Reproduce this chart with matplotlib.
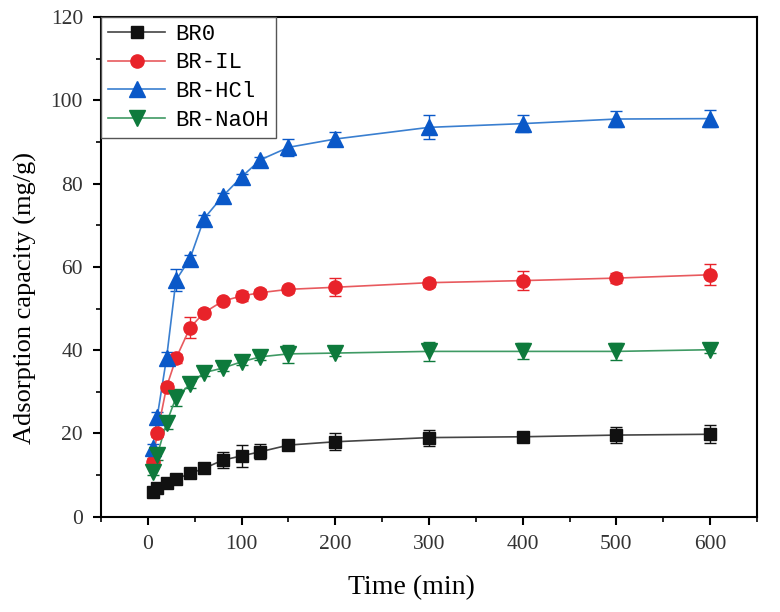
import matplotlib
matplotlib.use("Agg")
import matplotlib.pyplot as plt
from matplotlib.ticker import MultipleLocator

time = [5, 10, 20, 30, 45, 60, 80, 100, 120, 150, 200, 300, 400, 500, 600]

br0 = [6.0, 6.8, 8.0, 9.0, 10.4, 11.6, 13.6, 14.6, 15.6, 17.2, 18.0, 19.0, 19.2, 19.6, 19.8]
br0_err = [0.6, 0.5, 0.6, 0.6, 0.6, 0.7, 2.0, 2.6, 1.8, 1.0, 2.0, 1.9, 0.5, 2.0, 2.2]

br_il = [13.2, 20.0, 31.2, 38.0, 45.4, 49.0, 51.8, 53.0, 53.8, 54.6, 55.1, 56.2, 56.7, 57.3, 58.1]
br_il_err = [0.8, 0.8, 1.0, 1.0, 2.6, 0.8, 0.8, 1.2, 0.8, 0.8, 2.2, 1.0, 2.2, 1.2, 2.5]

br_hcl = [16.4, 24.0, 38.2, 56.8, 62.0, 71.6, 77.0, 81.6, 85.7, 88.7, 90.7, 93.5, 94.4, 95.5, 95.6]
br_hcl_err = [1.0, 1.2, 1.4, 2.6, 0.8, 0.8, 0.8, 0.8, 0.8, 2.1, 1.6, 2.9, 2.0, 1.9, 2.1]

br_naoh = [10.8, 14.8, 22.6, 28.6, 31.8, 34.6, 35.7, 37.2, 38.4, 39.1, 39.3, 39.7, 39.7, 39.7, 40.1]
br_naoh_err = [0.8, 1.2, 1.5, 2.0, 0.8, 0.8, 0.8, 0.8, 0.8, 2.2, 0.8, 2.2, 1.9, 2.0, 0.8]

labels = ["BR0", "BR-IL", "BR-HCl", "BR-NaOH"]

fig = plt.figure(figsize=(7.8, 6.12), dpi=100)
ax = fig.add_axes([0.1295, 0.1557, 0.841, 0.8165])

series = [
    (br0, br0_err, "#111111", "s", 8.5),
    (br_il, br_il_err, "#e8232a", "o", 9.5),
    (br_hcl, br_hcl_err, "#0a58c8", "^", 11),
    (br_naoh, br_naoh_err, "#0e7a3c", "v", 11),
]
line_cols = ["#444444", "#e85a5e", "#3a7fd0", "#3f9a64"]

handles = []
for (vals, errs, col, mk, ms), lab, lc in zip(series, labels, line_cols):
    ax.errorbar(time, vals, yerr=errs, fmt="none", ecolor=col, elinewidth=1.0,
                capsize=4, capthick=1.0, zorder=2)
    ax.plot(time, vals, "-", color=lc, lw=1.2, zorder=3)
    ax.plot(time, vals, mk, color=col, ms=ms, mec=col, zorder=4, linestyle="none")
    h, = ax.plot([], [], "-", color=lc, lw=1.2, marker=mk, ms=ms, mfc=col, mec=col, label=lab)
    handles.append(h)

ax.set_xlim(-50, 650)
ax.set_ylim(0, 120)
ax.xaxis.set_major_locator(MultipleLocator(100))
ax.xaxis.set_minor_locator(MultipleLocator(50))
ax.yaxis.set_major_locator(MultipleLocator(20))
ax.yaxis.set_minor_locator(MultipleLocator(10))

for s in ax.spines.values():
    s.set_linewidth(1.5)
ax.tick_params(which="major", direction="out", length=6, width=1.5, top=False, right=False,
               labelsize=15.5, pad=7)
ax.tick_params(which="minor", direction="out", length=3.5, width=1.2, top=False, right=False)
for t in ax.get_xticklabels() + ax.get_yticklabels():
    t.set_fontfamily("Liberation Serif")
    t.set_color("#333333")

ax.set_xlabel("Time (min)", fontfamily="Liberation Serif", fontsize=20)
ax.set_ylabel("Adsorption capacity (mg/g)", fontfamily="Liberation Serif", fontsize=19)
ax.xaxis.set_label_coords(0.4726, -0.117)
ax.yaxis.set_label_coords(-0.097, 0.438)

leg = ax.legend(handles=handles, loc="upper left", borderaxespad=0.0, fancybox=False,
                edgecolor="#555555", framealpha=1.0, handlelength=2.6,
                prop={"family": "Liberation Mono", "size": 16}, labelspacing=0.35,
                borderpad=0.3, handletextpad=0.45)
leg.get_frame().set_linewidth(1.0)

fig.savefig("out.png", dpi=100)
